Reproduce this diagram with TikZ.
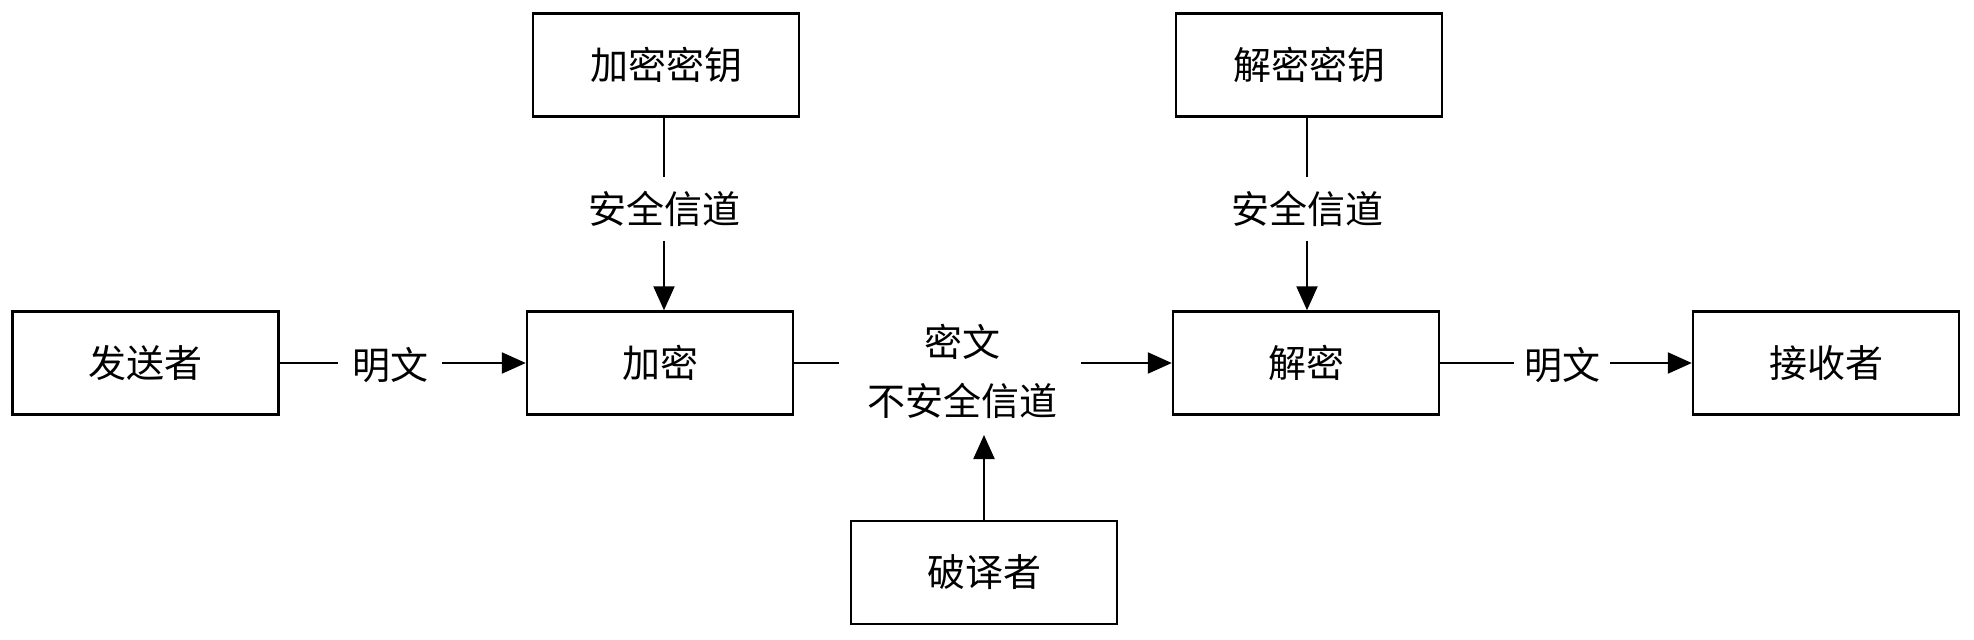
\documentclass[tikz,border=0pt]{standalone}
\usepackage{fontspec}
\newfontfamily\cjk{Noto Sans CJK SC}
\usetikzlibrary{arrows.meta}
\begin{document}
\begin{tikzpicture}[x=1pt,y=-1pt,
  box/.style={draw,line width=2.4pt,minimum width=266pt,minimum height=103pt,inner sep=0pt,font=\cjk\fontsize{38}{44}\selectfont},
  lbl/.style={inner sep=0pt,font=\cjk\fontsize{38}{44}\selectfont},
  ln/.style={line width=2.2pt},
  arr/.style={line width=2.2pt,-{Triangle[length=24pt,width=21pt]}}]
\useasboundingbox (0,0) rectangle (1974,640);
\node[box] (kenc) at (666,65) {加密密钥};
\node[box] (kdec) at (1309,65) {解密密钥};
\node[box] (sender) at (145.5,363) {发送者};
\node[box] (enc) at (660,363) {加密};
\node[box] (dec) at (1306,363) {解密};
\node[box] (recv) at (1826,363) {接收者};
\node[box] (crack) at (984,572.5) {破译者};
% labels
\node[lbl,inner xsep=14pt] (m1) at (390,365) {明文};
\node[lbl,inner xsep=10pt] (m2) at (1562,365) {明文};
\node[lbl,inner ysep=14pt] (s1) at (664,209) {安全信道};
\node[lbl,inner ysep=14pt] (s2) at (1307,209) {安全信道};
\node[lbl] (ct1) at (962,342) {密文};
\node[lbl] (ct2) at (962,401) {不安全信道};
\coordinate (c1) at (839,363);
\coordinate (c2) at (1081,363);
\coordinate (c3) at (984,435);
% connectors
\draw[ln] (sender.east) -- (sender.east -| m1.west);
\draw[arr] (m1.east |- enc.west) -- (enc.west);
\draw[ln] (kenc.south -| s1) -- (s1.north);
\draw[arr] (s1.south) -- (s1.south |- enc.north);
\draw[ln] (kdec.south -| s2) -- (s2.north);
\draw[arr] (s2.south) -- (s2.south |- dec.north);
\draw[ln] (enc.east) -- (c1);
\draw[arr] (c2) -- (dec.west);
\draw[arr] (crack.north) -- (c3);
\draw[ln] (dec.east) -- (dec.east -| m2.west);
\draw[arr] (m2.east |- recv.west) -- (recv.west);
\end{tikzpicture}
\end{document}
